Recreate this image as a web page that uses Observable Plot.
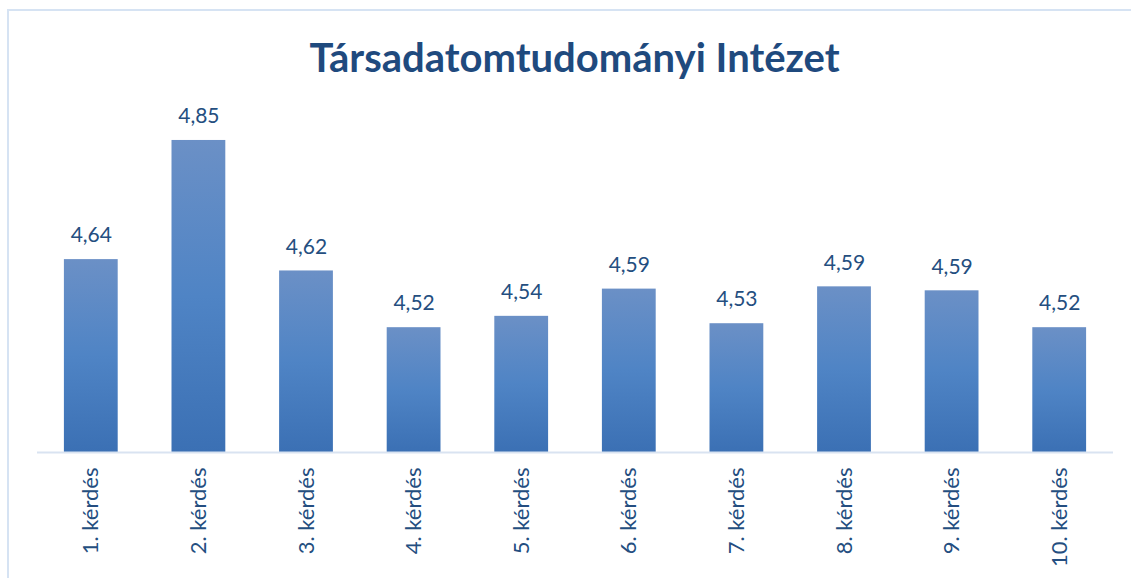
<!DOCTYPE html>
<html>
<head>
<meta charset="utf-8">
<script src="https://cdn.jsdelivr.net/npm/d3@7"></script>
<script src="https://cdn.jsdelivr.net/npm/@observablehq/plot@0.6"></script>
<style>
  html, body { margin: 0; padding: 0; background: #fff; width: 1131px; height: 578px; overflow: hidden; }
  #frame { position: absolute; left: 7px; top: 9px; width: 1200px; height: 700px; border-left: 2px solid #d6e3f3; border-top: 2px solid #d6e3f3; }
  #title { position: absolute; left: 0; width: 1149px; top: 33px; text-align: center; font-family: Lato, "Open Sans", sans-serif; font-weight: bold; font-size: 40px; color: #1f4a7e; line-height: 48px; }
  #chart { position: absolute; left: 0; top: 90px; }
</style>
</head>
<body>
<div id="frame"></div>
<div id="title">Társadatomtudományi Intézet</div>
<div id="chart"></div>
<script>
const categories = ["1. kérdés","2. kérdés","3. kérdés","4. kérdés","5. kérdés","6. kérdés","7. kérdés","8. kérdés","9. kérdés","10. kérdés"];
const values = [4.64, 4.85, 4.62, 4.52, 4.54, 4.588, 4.527, 4.592, 4.585, 4.52];
const valueLabels = ["4,64","4,85","4,62","4,52","4,54","4,59","4,53","4,59","4,59","4,52"];

const data = categories.map((c, i) => ({cat: c, v: values[i], label: valueLabels[i]}));
const textColor = "#244e80";

const plot = Plot.plot({
  width: 1131,
  height: 488,
  marginLeft: 37,
  marginRight: 18,
  marginTop: 21.6,
  marginBottom: 126,
  style: {fontFamily: "Lato, 'Open Sans', sans-serif", background: "transparent"},
  x: {domain: categories, paddingInner: 0.5, paddingOuter: 0.25, round: false, label: null},
  y: {domain: [4.3, 4.9], axis: null},
  marks: [
    Plot.barY(data, {x: "cat", y1: 4.3, y2: "v", fill: "url(#barGrad)"}),
    Plot.ruleY([4.3], {stroke: "#d9e3f1", strokeWidth: 2}),
    Plot.text(data, {x: "cat", y: "v", text: "label", dy: -24, fontSize: 21, fill: textColor}),
    Plot.axisX({tickRotate: -90, tickSize: 0, tickPadding: 15, fontSize: 22, fill: textColor, label: null})
  ]
});

const svg = d3.select(plot);
const defs = svg.insert("defs", ":first-child");
const g = defs.append("linearGradient").attr("id", "barGrad").attr("x1", 0).attr("y1", 0).attr("x2", 0).attr("y2", 1);
g.append("stop").attr("offset", "0%").attr("stop-color", "#6b90c6");
g.append("stop").attr("offset", "50%").attr("stop-color", "#4f84c5");
g.append("stop").attr("offset", "100%").attr("stop-color", "#3b70b4");

document.getElementById("chart").appendChild(plot);
</script>
</body>
</html>
